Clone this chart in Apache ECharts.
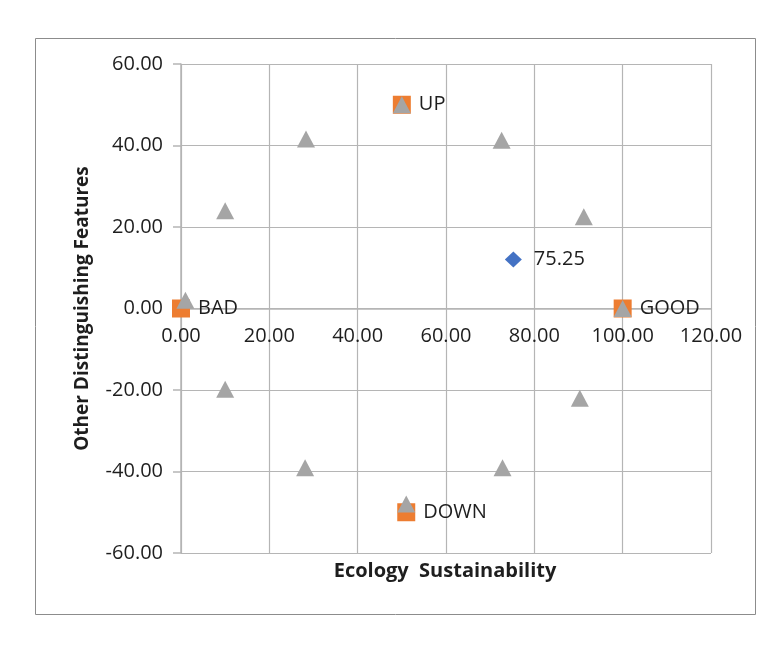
<!DOCTYPE html>
<html>
<head>
<meta charset="utf-8">
<script src="https://cdn.jsdelivr.net/npm/echarts@6/dist/echarts.min.js"></script>
<style>
  html, body { margin: 0; padding: 0; background: #fff; }
</style>
</head>
<body>
<div id="myChart" style="width: 784px; height: 646px;"></div>
<script>
// marker point (blue diamond)
var scorePoint = [[75.25, 12]];

// reference corners (orange squares)
var refNames = ["BAD", "GOOD", "UP", "DOWN"];
var refPoints = [[0, 0], [100, 0], [50, 50], [51, -50]];

// outline (grey triangles)
var ringPoints = [
  [1, 2], [10, 24], [28.3, 41.6], [50, 50], [72.6, 41.3], [91.2, 22.5],
  [100, 0], [90.3, -22], [72.8, -39.1], [51, -48], [28.1, -39.1], [10, -19.8]
];

var xTicks = [0, 20, 40, 60, 80, 100, 120];
var yTicks = [-60, -40, -20, 0, 20, 40, 60];

var xTitle = "Ecology  Sustainability";
var yTitle = "Other Distinguishing Features";

let myChart = echarts.init(document.getElementById("myChart"));

let font = "'Open Sans', sans-serif";
let textColor = "#1e1e1e";
let lineColor = "#b5b5b5";

let gridTop = 64;
let gridBottom = 93;
let plotHeight = 646 - gridTop - gridBottom;
// x axis sits on y = 0, which is half way up the plot
let xAxisOffset = -plotHeight * (0 - yTicks[0]) / (yTicks[yTicks.length - 1] - yTicks[0]);

let refData = [];
for (let i = 0; i < refPoints.length; i++) {
  refData.push({ name: refNames[i], value: refPoints[i] });
}

let option = {
  animation: false,
  grid: {
    left: 181,
    top: gridTop,
    right: 73,
    bottom: gridBottom
  },
  graphic: [
    {
      type: "rect",
      shape: { x: 35.5, y: 38.5, width: 720, height: 576 },
      style: { fill: null, stroke: "#8c8c8c", lineWidth: 1 },
      silent: true
    },
    {
      type: "text",
      x: 445,
      y: 571,
      style: {
        text: xTitle,
        font: "bold 20px " + font,
        fill: textColor,
        align: "center",
        verticalAlign: "middle"
      }
    }
  ],
  xAxis: {
    type: "value",
    min: xTicks[0],
    max: xTicks[xTicks.length - 1],
    interval: 20,
    position: "bottom",
    offset: xAxisOffset,
    axisLine: { onZero: false, lineStyle: { color: lineColor, width: 1.5 } },
    axisTick: { show: false },
    axisLabel: {
      margin: 18,
      fontFamily: font,
      fontSize: 20,
      color: textColor,
      formatter: function(v) { return v.toFixed(2); }
    },
    splitLine: { show: true, lineStyle: { color: lineColor, width: 1.2 } }
  },
  yAxis: {
    type: "value",
    min: yTicks[0],
    max: yTicks[yTicks.length - 1],
    interval: 20,
    name: yTitle,
    nameLocation: "middle",
    nameRotate: 90,
    nameGap: 89,
    nameTextStyle: {
      fontFamily: font,
      fontWeight: "bold",
      fontSize: 19,
      color: textColor
    },
    axisLine: { show: true, onZero: false, lineStyle: { color: lineColor, width: 1.5 } },
    axisTick: { show: true, length: 8, lineStyle: { color: lineColor, width: 1.5 } },
    axisLabel: {
      margin: 18,
      fontFamily: font,
      fontSize: 20,
      color: textColor,
      formatter: function(v) { return v.toFixed(2); }
    },
    splitLine: { show: true, lineStyle: { color: lineColor, width: 1.2 } }
  },
  series: [
    {
      name: "score",
      type: "scatter",
      symbol: "diamond",
      symbolSize: [17, 16],
      itemStyle: { color: "#4472c4", opacity: 1 },
      label: {
        show: true,
        position: "right",
        distance: 12,
        fontFamily: font,
        fontSize: 20,
        color: textColor,
        formatter: function(p) { return p.value[0].toFixed(2); }
      },
      data: scorePoint
    },
    {
      name: "reference",
      type: "scatter",
      symbol: "rect",
      symbolSize: 18,
      itemStyle: { color: "#ed7d31", opacity: 1 },
      label: {
        show: true,
        position: "right",
        distance: 8,
        fontFamily: font,
        fontSize: 20,
        color: textColor,
        formatter: "{b}"
      },
      data: refData
    },
    {
      name: "ring",
      type: "scatter",
      symbol: "triangle",
      symbolSize: [18, 17],
      itemStyle: { color: "#a5a5a5", opacity: 1 },
      data: ringPoints
    }
  ]
};

myChart.setOption(option);
</script>
</body>
</html>
